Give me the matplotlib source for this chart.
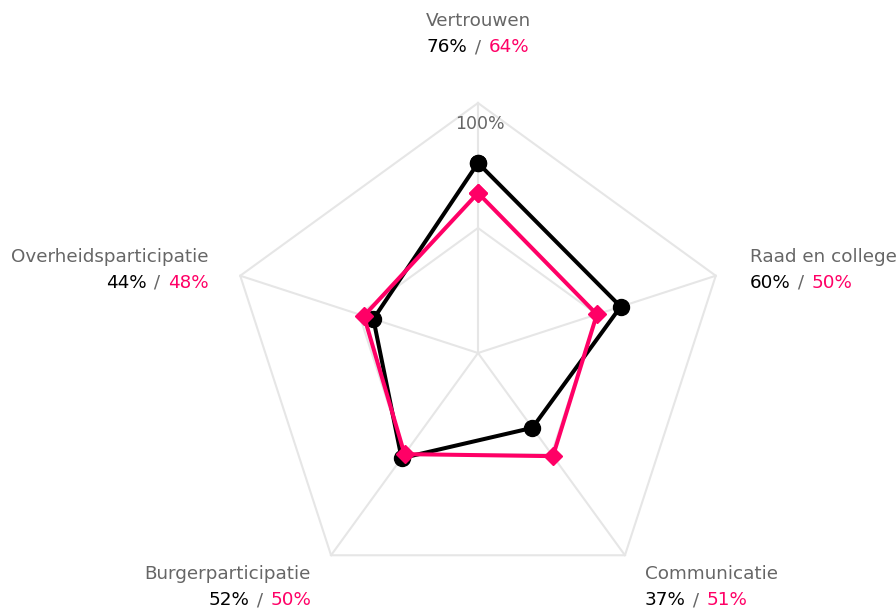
import numpy as np
import matplotlib
matplotlib.use("Agg")
import matplotlib.pyplot as plt
from matplotlib.offsetbox import TextArea, HPacker, VPacker, AnnotationBbox

plt.rcParams['font.family'] = ['DejaVu Sans']

# data
categories = ['Vertrouwen', 'Raad en college', 'Communicatie',
              'Burgerparticipatie', 'Overheidsparticipatie']
series_black = [76, 60, 37, 52, 44]
series_pink = [64, 50, 51, 50, 48]

PINK = '#ff0066'
GRID = '#e6e6e6'
LABEL = '#666666'

fig = plt.figure(figsize=(8.96, 6.10), dpi=100)
ax = fig.add_axes([0, 0, 1, 1])
# center at (478, 353) px, radius 100% = 250 px
ax.set_xlim(-478 / 250, (896 - 478) / 250)
ax.set_ylim(-(610 - 353) / 250, 353 / 250)
ax.axis('off')

n = len(categories)
angles = np.deg2rad(90 - 72 * np.arange(n))
cx, cy = np.cos(angles), np.sin(angles)

# grid
for lvl in [0.5, 1.0]:
    ax.plot(np.append(cx, cx[0]) * lvl, np.append(cy, cy[0]) * lvl,
            color=GRID, lw=1.5, zorder=1)
for x, y in zip(cx, cy):
    ax.plot([0, x], [0, y], color=GRID, lw=1.5, zorder=1)

ax.text(0.008, 0.915, '100%', color=LABEL, fontsize=12.5,
        ha='center', va='center', zorder=2)

# series
def polygon(vals):
    r = np.array(vals) / 100
    return np.append(r * cx, r[0] * cx[0]), np.append(r * cy, r[0] * cy[0])

bx, by = polygon(series_black)
px, py = polygon(series_pink)
ax.plot(bx, by, color='black', lw=2.9, marker='o', markersize=11.5, zorder=3)
ax.plot(px, py, color=PINK, lw=2.9, marker='D', markersize=9.5, zorder=4)

# labels
offsets = [(0, 69), (34, 6), (20, -32), (-20, -32), (-32, 6)]
aligns = [('center', 0.5), ('left', 0.0), ('left', 0.0), ('right', 1.0), ('right', 1.0)]
fs = 13.2
for i, cat in enumerate(categories):
    name = TextArea(cat, textprops=dict(color=LABEL, fontsize=fs))
    row = HPacker(children=[
        TextArea(f'{series_black[i]}%', textprops=dict(color='black', fontsize=fs)),
        TextArea(' / ', textprops=dict(color=LABEL, fontsize=fs)),
        TextArea(f'{series_pink[i]}%', textprops=dict(color=PINK, fontsize=fs)),
    ], sep=1, pad=0, align='baseline')
    block = VPacker(children=[name, row], sep=6, pad=0, align=aligns[i][0])
    ab = AnnotationBbox(block, (cx[i], cy[i]), xybox=offsets[i],
                        xycoords='data', boxcoords='offset pixels',
                        box_alignment=(aligns[i][1], 0.5), frameon=False, pad=0)
    ax.add_artist(ab)

fig.savefig('out.png', dpi=100)
